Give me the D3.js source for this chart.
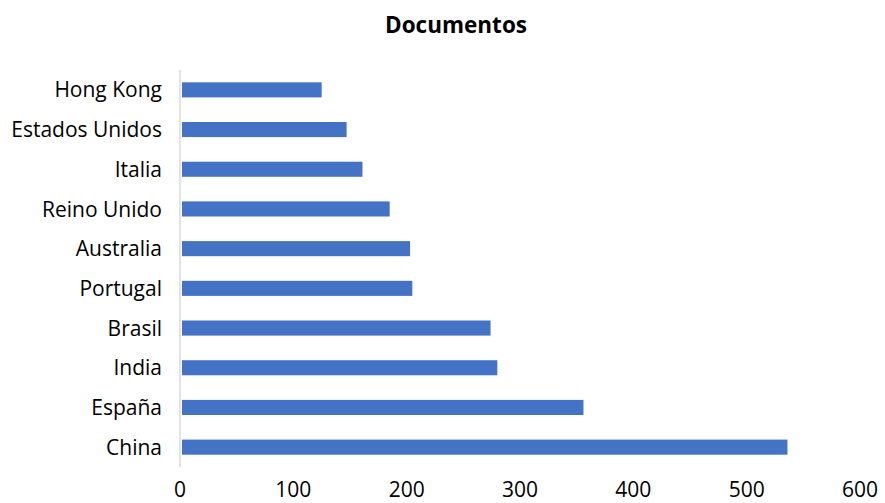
<!DOCTYPE html>
<html>
<head>
<meta charset="utf-8">
<script src="https://cdn.jsdelivr.net/npm/d3@7"></script>
<style>
  body { margin: 0; background: #fff; }
  text { font-family: "Open Sans", "Noto Sans", sans-serif; }
</style>
</head>
<body>
<svg id="chart"></svg>
<script>
// data
var countries = ["Hong Kong", "Estados Unidos", "Italia", "Reino Unido", "Australia",
                 "Portugal", "Brasil", "India", "España", "China"];
var documentos = [125, 147, 161, 185, 203, 205, 274, 280, 356, 536];
var xTicks = [0, 100, 200, 300, 400, 500, 600];

var width = 885, height = 503;
var margin = {top: 70, right: 25, bottom: 36, left: 180};

var svg = d3.select("#chart")
  .attr("width", width)
  .attr("height", height);

var x = d3.scaleLinear()
  .domain([0, 600])
  .range([margin.left, width - margin.right]);

var y = d3.scaleBand()
  .domain(countries)
  .range([margin.top, height - margin.bottom])
  .paddingInner(0.62)
  .paddingOuter(0.31);

// title
svg.append("text")
  .attr("x", 456)
  .attr("y", 33)
  .attr("text-anchor", "middle")
  .style("font-size", "22.5px")
  .style("font-weight", "bold")
  .text("Documentos");

// bars
svg.append("g")
  .selectAll("rect")
  .data(countries)
  .enter()
  .append("rect")
  .attr("x", x(0) + 2)
  .attr("y", function(d) { return y(d); })
  .attr("width", function(d, i) { return x(documentos[i]) - x(0) - 2; })
  .attr("height", y.bandwidth())
  .attr("fill", "#4472c4");

// vertical axis line
svg.append("line")
  .attr("x1", x(0)).attr("x2", x(0))
  .attr("y1", margin.top).attr("y2", height - margin.bottom)
  .attr("stroke", "#e3e3e3")
  .attr("stroke-width", 2);

// category labels
svg.append("g")
  .selectAll("text")
  .data(countries)
  .enter()
  .append("text")
  .attr("x", x(0) - 18)
  .attr("y", function(d) { return y(d) + y.bandwidth() / 2; })
  .attr("dy", "0.36em")
  .attr("text-anchor", "end")
  .style("font-size", "21px")
  .style("fill", "#000")
  .text(function(d) { return d; });

// x tick labels
svg.append("g")
  .selectAll("text")
  .data(xTicks)
  .enter()
  .append("text")
  .attr("x", function(d) { return x(d); })
  .attr("y", 497)
  .attr("text-anchor", "middle")
  .style("font-size", "21px")
  .style("fill", "#000")
  .text(function(d) { return d; });
</script>
</body>
</html>
